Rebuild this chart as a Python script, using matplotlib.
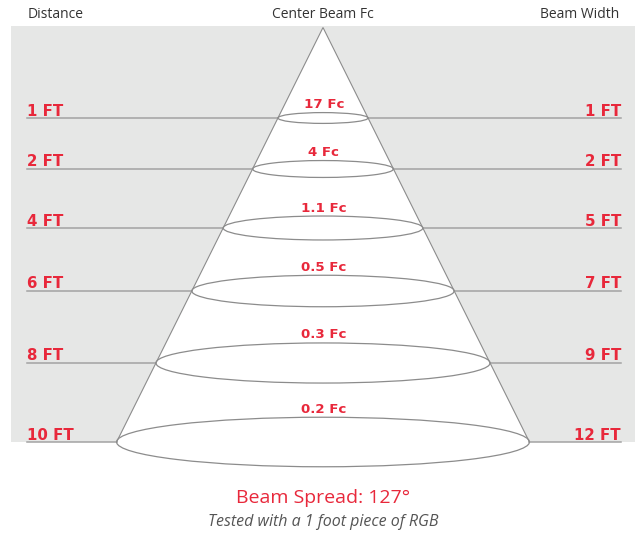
import matplotlib
matplotlib.use("Agg")
import matplotlib.pyplot as plt
from matplotlib.patches import Rectangle, Polygon, Ellipse

# ---- data ----
distance_ft = [1, 2, 4, 6, 8, 10]
center_fc = ["17", "4", "1.1", "0.5", "0.3", "0.2"]
beam_width_ft = [1, 2, 5, 7, 9, 12]
beam_spread_deg = 127

# ---- layout (pixel coordinates) ----
W, H = 638, 536
level_y = [118, 169, 228, 291, 363, 442]
apex_x, apex_y = 323, 27.5
base_y = 442
slope = 0.498          # half-width per pixel of depth
ell_ratio = 0.12

RED = "#e8283b"
GRAY_BG = "#e6e7e6"
LINE = "#a3a3a3"
EDGE = "#8c8c8c"
TXT = "#333333"
FONT = ["Open Sans", "DejaVu Sans"]
BFONT = ["DejaVu Sans"]

fig = plt.figure(figsize=(W / 100, H / 100), dpi=100)
ax = fig.add_axes([0, 0, 1, 1])
ax.set_xlim(0, W)
ax.set_ylim(H, 0)
ax.axis("off")

ax.add_patch(Rectangle((11, 26), 624, base_y - 26, facecolor=GRAY_BG, edgecolor="none", zorder=0))

hw_base = (base_y - apex_y) * slope
ax.add_patch(Polygon([(apex_x, apex_y), (apex_x - hw_base, base_y), (apex_x + hw_base, base_y)],
                     closed=True, facecolor="white", edgecolor="none", zorder=1))
ax.plot([apex_x - hw_base, apex_x, apex_x + hw_base], [base_y, apex_y, base_y],
        color=EDGE, lw=0.8, zorder=3, solid_joinstyle="miter")

for d, fc, bw, y in zip(distance_ft, center_fc, beam_width_ft, level_y):
    hw = (y - apex_y) * slope
    ax.plot([27, apex_x - hw], [y, y], color=LINE, lw=1.1, zorder=2)
    ax.plot([apex_x + hw, 621], [y, y], color=LINE, lw=1.1, zorder=2)
    eh = 2 * hw * ell_ratio
    ax.add_patch(Ellipse((apex_x, y), 2 * hw, eh, facecolor="none", edgecolor=EDGE, lw=0.9, zorder=3))
    ax.text(27, y - 2.5, f"{d} FT", color=RED, fontsize=10.8, fontweight="bold",
            family=BFONT, ha="left", va="baseline", zorder=4)
    ax.text(621, y - 2.5, f"{bw} FT", color=RED, fontsize=10.8, fontweight="bold",
            family=BFONT, ha="right", va="baseline", zorder=4)
    ax.text(apex_x + 1, y - eh / 2 - 4.5, f"{fc} Fc", color=RED, fontsize=9.6, fontweight="bold",
            family=BFONT, ha="center", va="baseline", zorder=4)

ax.text(28, 15, "Distance", color=TXT, fontsize=10, family=FONT, ha="left", va="center")
ax.text(apex_x, 15, "Center Beam Fc", color=TXT, fontsize=10, family=FONT, ha="center", va="center")
ax.text(619, 15, "Beam Width", color=TXT, fontsize=10, family=FONT, ha="right", va="center")

ax.text(apex_x, 498, f"Beam Spread: {beam_spread_deg}\u00b0", color=RED, fontsize=14,
        family=FONT, ha="center", va="center")
ax.text(apex_x, 522, "Tested with a 1 foot piece of RGB", color="#555555", fontsize=11.5,
        style="italic", family=FONT, ha="center", va="center")

fig.savefig("out.png", dpi=100)
